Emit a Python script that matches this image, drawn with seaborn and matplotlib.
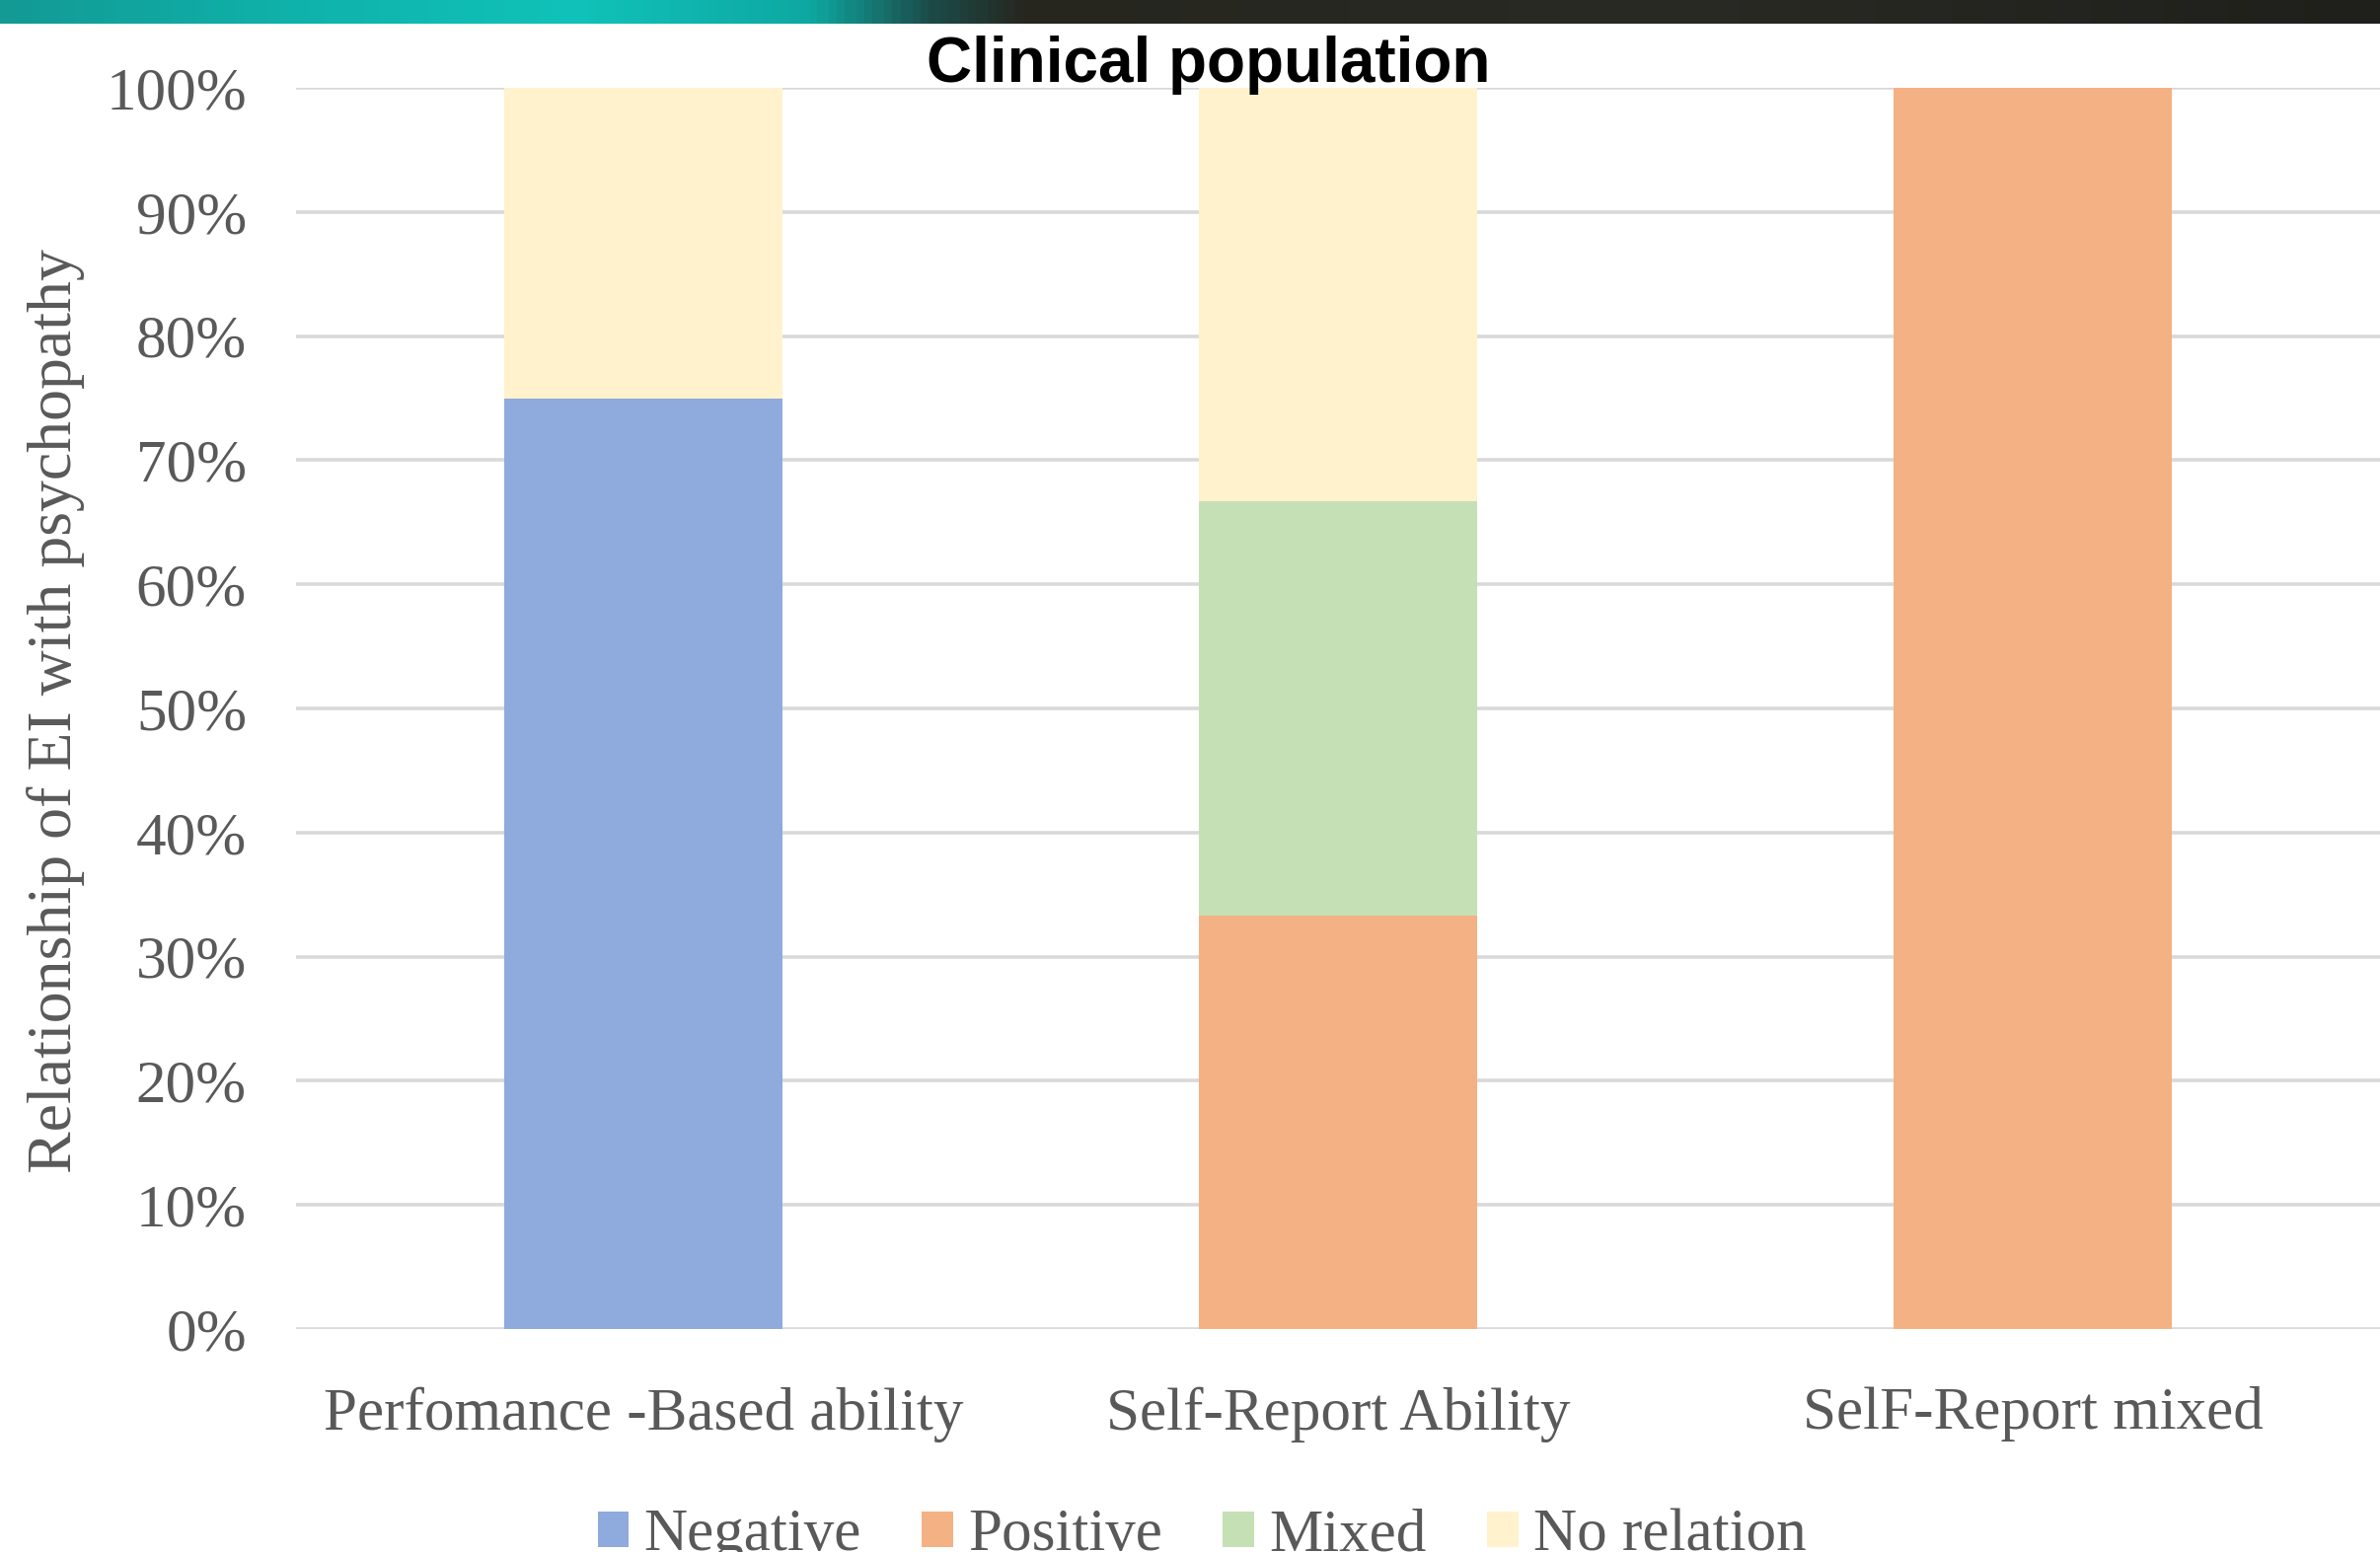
import numpy as np
import pandas as pd
import matplotlib
matplotlib.use("Agg")
import matplotlib.pyplot as plt
from matplotlib.patches import Patch
from matplotlib.ticker import PercentFormatter
from matplotlib.colors import LinearSegmentedColormap
import seaborn as sns

# ---- data -------------------------------------------------------------
categories = ["Perfomance -Based ability", "Self-Report Ability", "SelF-Report mixed"]
series_names = ["Negative", "Positive", "Mixed", "No relation"]
negative = [75.0, 0.0, 0.0]
positive = [0.0, 100 / 3, 100.0]
mixed = [0.0, 100 / 3, 0.0]
no_relation = [25.0, 100 / 3, 0.0]
colors = ["#8FAADC", "#F4B183", "#C5E0B4", "#FFF2CC"]
yticks = [0, 10, 20, 30, 40, 50, 60, 70, 80, 90, 100]

title = "Clinical population"
ylabel = "Relationship of EI with psychopathy"

# ---- style ------------------------------------------------------------
sns.set_theme(style="white")
plt.rcParams["font.family"] = ["Liberation Serif", "DejaVu Serif"]
text_gray = "#595959"
grid_gray = "#D9D9D9"

W, H = 2412, 1573
fig = plt.figure(figsize=(W / 100, H / 100), dpi=100)
fig.patch.set_facecolor("white")

# decorative header strip
band = fig.add_axes([0, 1 - 24 / H, 1, 24 / H])
band_cmap = LinearSegmentedColormap.from_list(
    "band",
    [(0.0, "#139A95"), (0.12, "#0FB2AA"), (0.24, "#10C2B9"), (0.34, "#0EA8A2"),
     (0.39, "#1C4C49"), (0.43, "#26261F"), (0.7, "#2A2A25"), (1.0, "#1F1F1B")],
)
band.imshow(np.linspace(0, 1, 600)[None, :], aspect="auto", cmap=band_cmap,
            extent=[0, 1, 0, 1])
band.set_axis_off()

# ---- stacked bars -----------------------------------------------------
ax = fig.add_axes([300 / W, 1 - 1347 / H, 1 - 300 / W, (1347 - 89) / H])

df = pd.DataFrame({"category": categories, "Negative": negative,
                   "Positive": positive, "Mixed": mixed, "No relation": no_relation})
cum = df[series_names].cumsum(axis=1)

# draw cumulative totals from the top layer down so each layer shows its own share
for name, color in reversed(list(zip(series_names, colors))):
    sns.barplot(x=df["category"], y=cum[name], color=color, width=0.4,
                saturation=1, ax=ax, zorder=2, linewidth=0)

ax.set_xlim(-0.5, 2.5)
ax.set_ylim(0, 100)
ax.set_yticks(yticks)
ax.yaxis.set_major_formatter(PercentFormatter(100, decimals=0))
ax.grid(axis="y", color=grid_gray, linewidth=2.6)
ax.set_axisbelow(True)
for side in ["top", "right", "left", "bottom"]:
    ax.spines[side].set_visible(False)
ax.tick_params(axis="y", length=0, pad=36, labelsize=44, labelcolor=text_gray)
ax.tick_params(axis="x", length=0, pad=42, labelsize=44, labelcolor=text_gray)
ax.set_xlabel("")
ax.set_ylabel("")

# vertical axis title
fig.text(57 / W, 1 - 721 / H, ylabel, rotation=90, ha="center", va="center",
         fontsize=46, color=text_gray)

fig.text(1225 / W, 1 - 83 / H, title, ha="center", va="baseline",
         fontsize=46, fontweight="bold", family=["Liberation Sans", "DejaVu Sans"],
         color="black")

handles = [Patch(facecolor=c, edgecolor="none", label=n)
           for n, c in zip(series_names, colors)]
fig.legend(handles=handles, loc="upper center", ncol=4, frameon=False,
           bbox_to_anchor=(1218 / W, 1 - 1529 / H), fontsize=44,
           labelcolor=text_gray, handlelength=0.52, handleheight=0.52,
           handletextpad=0.25, columnspacing=1.0, borderpad=0, borderaxespad=0)

fig.savefig("out.png", dpi=100, facecolor="white")
